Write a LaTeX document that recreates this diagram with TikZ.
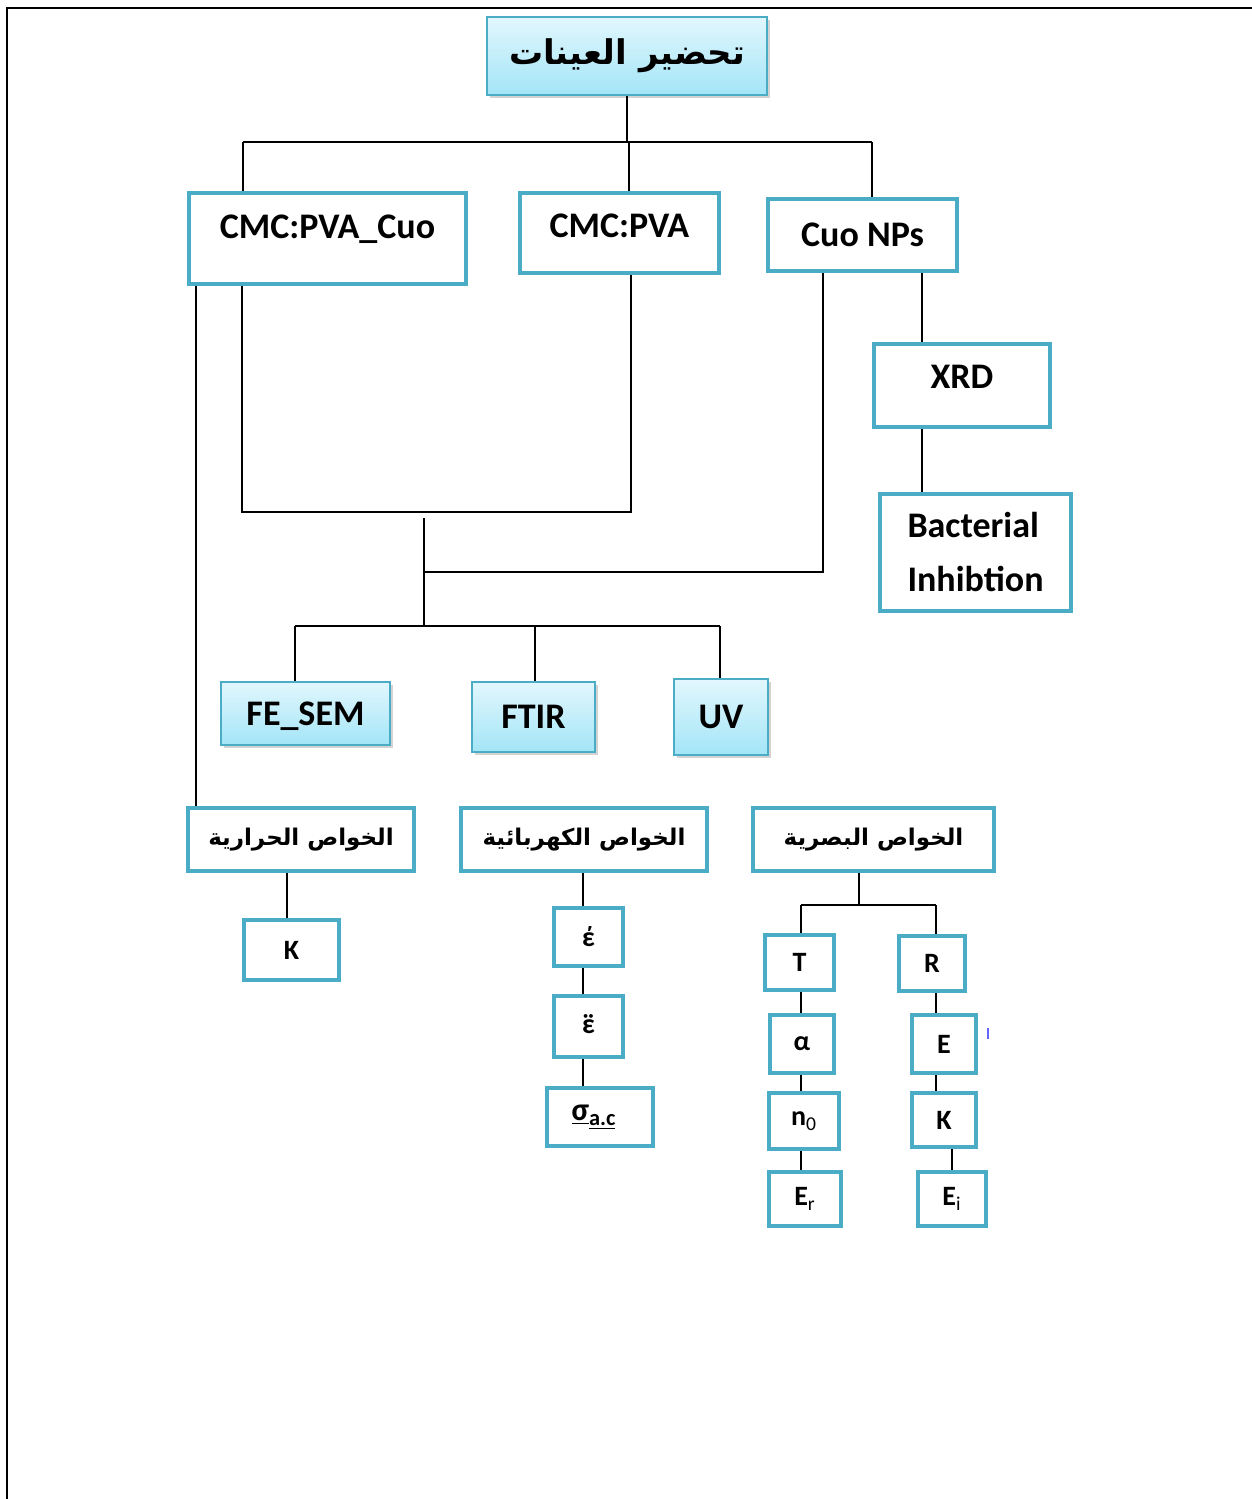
\documentclass[tikz,border=0pt]{standalone}
\usepackage{fontspec}
\setmainfont{Carlito}
\newfontfamily\arabicfont[Script=Arabic]{DejaVu Sans}
\TeXXeTstate=1
\usetikzlibrary{shadows}
\definecolor{boxblue}{RGB}{75,172,198}
\definecolor{skytop}{RGB}{226,247,253}
\definecolor{skybot}{RGB}{163,229,247}

\begin{document}
\begin{tikzpicture}[x=0.5pt, y=-0.5pt,
    prop/.style={draw=boxblue, line width=2pt, align=center, inner sep=2pt, font=\bfseries\fontsize{18}{27}\selectfont},
    small/.style={prop, font=\bfseries\fontsize{14}{16}\selectfont},
    arab/.style={prop, font=\arabicfont\bfseries\fontsize{11.5}{14}\selectfont},
    sky/.style={draw=boxblue, line width=1pt, top color=skytop, bottom color=skybot, align=center, font=\bfseries\fontsize{18}{20}\selectfont,
        drop shadow={shadow xshift=1.5pt, shadow yshift=-1.5pt, opacity=0.35}},
    link/.style={line width=1pt}
]
\useasboundingbox (0,0) rectangle (1252,1499);
% page frame
\draw[line width=1pt] (1252,8) -- (7,8) -- (7,1499);

% samples
\node[sky, minimum width=140pt, minimum height=39pt, font=\arabicfont\bfseries\fontsize{17}{20}\selectfont] (title) at (627,56) {\beginR تحضير العينات\endR};
\node[prop, minimum width=138.5pt, minimum height=45.5pt, text depth=12pt] (cmcc) at (327.5,238.5) {CMC:PVA\_Cuo};
\node[prop, minimum width=99.5pt, minimum height=40pt, text depth=7pt] (cmc) at (619.5,233) {CMC:PVA};
\node[prop, minimum width=94.5pt, minimum height=36pt] (cuo) at (862.5,235) {Cuo NPs};
\node[prop, minimum width=88pt, minimum height=41.5pt, text depth=9pt] (xrd) at (962,385.5) {XRD};
\node[prop, minimum width=95.5pt, minimum height=58.5pt, align=left] (bact) at (975.5,552) {Bacterial\\Inhibtion};

% characterisation
\node[sky, minimum width=84.5pt, minimum height=31.5pt, text depth=0pt] (fesem) at (305.5,713.5) {FE\_SEM};
\node[sky, minimum width=61.5pt, minimum height=35pt] (ftir) at (533.5,717) {FTIR};
\node[sky, minimum width=47pt, minimum height=38pt] (uv) at (721,717) {UV};

% properties
\node[arab, minimum width=113pt, minimum height=31.5pt] (therm) at (301,839.5) {\beginR الخواص الحرارية\endR};
\node[arab, minimum width=123pt, minimum height=31.5pt] (elec) at (584,839.5) {\beginR الخواص الكهربائية\endR};
\node[arab, minimum width=120.5pt, minimum height=31.5pt] (opt) at (873.5,839.5) {\beginR الخواص البصرية\endR};

\node[small, minimum width=47.5pt, minimum height=30pt] (kth) at (291.5,950) {K};

\node[small, minimum width=34.5pt, minimum height=29pt] (eps1) at (588.5,937) {έ};
\node[small, minimum width=34.5pt, minimum height=30.5pt] (eps2) at (588.5,1026.5) {\ooalign{ε\cr\hidewidth¨\hidewidth\cr}};
\node[small, minimum width=53pt, minimum height=29pt, font=\bfseries\fontsize{16}{18}\selectfont] (sig) at (600,1117) {\underline{σ}\textsubscript{\underline{a.c}}\hspace{6pt}};

\node[small, minimum width=34.5pt, minimum height=27.5pt] (tt) at (799.5,962.5) {T};
\node[small, minimum width=32pt, minimum height=29pt] (al) at (802,1044) {α};
\node[small, minimum width=35pt, minimum height=28pt] (nn) at (804,1121) {n\textsubscript{\mdseries 0}};
\node[small, minimum width=36pt, minimum height=27pt] (er) at (805,1199) {E\textsubscript{\mdseries r}};
\node[small, minimum width=33pt, minimum height=27.5pt] (rr) at (932,963.5) {R};
\node[small, minimum width=32pt, minimum height=29pt] (ee) at (944,1044) {E};
\node[small, minimum width=32pt, minimum height=27pt] (kk) at (944,1120) {K};
\node[small, minimum width=34pt, minimum height=27pt] (ei) at (952,1199) {E\textsubscript{\mdseries i}};

% top tree
\coordinate (t1) at (243,142);
\coordinate (t2) at (629,142);
\coordinate (t3) at (872,142);
\draw[link] (title) -- (title |- t1);
\draw[link] (t1) -- (t3);
\draw[link] (t1) -- (t1 |- cmcc.north);
\draw[link] (t2) -- (t2 |- cmc.north);
\draw[link] (t3) -- (t3 |- cuo.north);

\coordinate (x1) at (922,0);
\draw[link] (x1 |- cuo.south) -- (x1 |- xrd.north);
\draw[link] (x1 |- xrd.south) -- (x1 |- bact.north);

% merge of the films and the powder
\coordinate (m1) at (242,512);
\coordinate (m2) at (631,512);
\draw[link] (m1 |- cmcc.south) -- (m1) -- (m2) -- (m2 |- cmc.south);
\coordinate (m3) at (424,518);
\coordinate (m4) at (424,626);
\draw[link] (m3) -- (m4);
\coordinate (m5) at (424,572);
\coordinate (m6) at (823,572);
\draw[link] (m5) -- (m6) -- (m6 |- cuo.south);

\coordinate (b1) at (295,626);
\coordinate (b2) at (535,626);
\coordinate (b3) at (720,626);
\draw[link] (b1) -- (b3);
\draw[link] (b1) -- (b1 |- fesem.north);
\draw[link] (b2) -- (b2 |- ftir.north);
\draw[link] (b3) -- (b3 |- uv.north);

\coordinate (l1) at (196,0);
\draw[link] (l1 |- cmcc.south) -- (l1 |- therm.north);

% properties
\coordinate (h1) at (287,0);
\draw[link] (h1 |- therm.south) -- (h1 |- kth.north);
\coordinate (e1) at (583,0);
\draw[link] (e1 |- elec.south) -- (e1 |- eps1.north);
\draw[link] (e1 |- eps1.south) -- (e1 |- eps2.north);
\draw[link] (e1 |- eps2.south) -- (e1 |- sig.north);

\coordinate (o1) at (859,905);
\coordinate (o2) at (801,905);
\coordinate (o3) at (936,905);
\draw[link] (o1 |- opt.south) -- (o1);
\draw[link] (o2) -- (o3);
\draw[link] (o2) -- (o2 |- tt.north);
\draw[link] (o3) -- (o3 |- rr.north);
\draw[link] (o2 |- tt.south) -- (o2 |- al.north);
\draw[link] (o2 |- al.south) -- (o2 |- nn.north);
\draw[link] (o2 |- nn.south) -- (o2 |- er.north);
\draw[link] (o3 |- rr.south) -- (o3 |- ee.north);
\draw[link] (o3 |- ee.south) -- (o3 |- kk.north);
\draw[link] (ei.north |- kk.south) -- (ei.north);

\draw[blue!60, line width=0.6pt] (988,1028) -- (988,1039);
\end{tikzpicture}
\end{document}
